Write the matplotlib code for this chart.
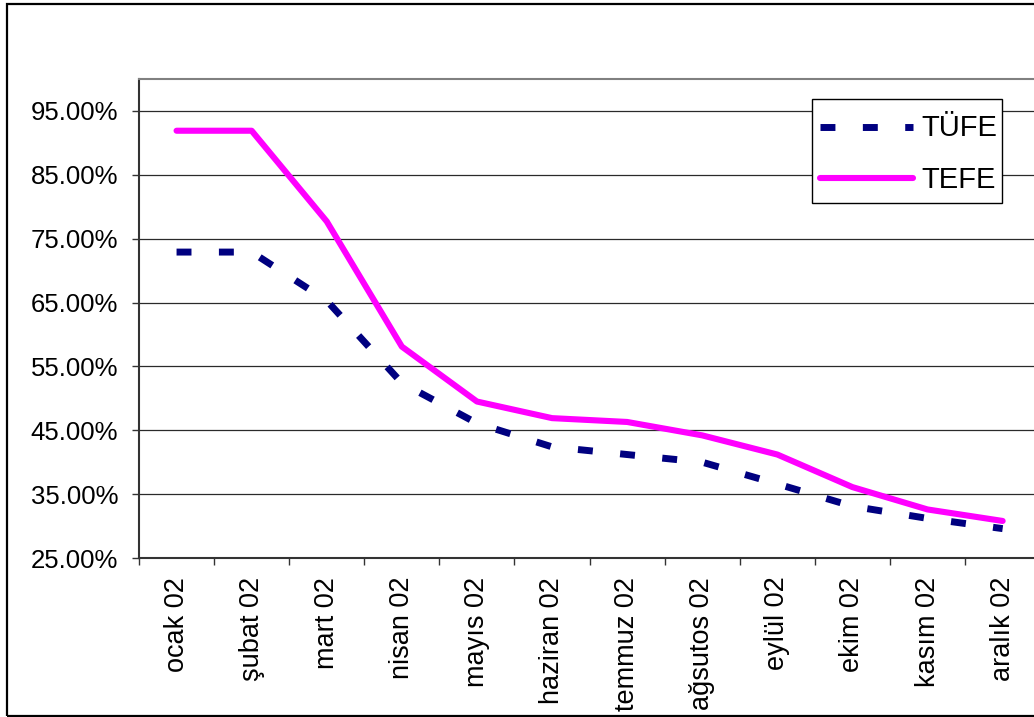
import matplotlib
matplotlib.use("Agg")
import matplotlib.pyplot as plt
from matplotlib.patches import Rectangle
from matplotlib.lines import Line2D
from matplotlib.ticker import FixedLocator, FuncFormatter

plt.rcParams['font.family'] = ['Liberation Sans', 'DejaVu Sans']

# Monthly annual inflation, 2002 (%)
months = ["ocak 02", "şubat 02", "mart 02", "nisan 02", "mayıs 02", "haziran 02",
          "temmuz 02", "ağsutos 02", "eylül 02", "ekim 02", "kasım 02", "aralık 02"]
tufe = [72.9, 72.9, 65.3, 52.4, 46.1, 42.4, 41.2, 40.0, 36.6, 33.1, 31.2, 29.6]
tefe = [91.9, 91.9, 77.7, 58.1, 49.5, 46.9, 46.3, 44.2, 41.2, 36.1, 32.6, 30.8]
series_names = ["TÜFE", "TEFE"]
y_ticks = [25, 35, 45, 55, 65, 75, 85, 95]

W, H = 1034, 717
fig = plt.figure(figsize=(W / 100, H / 100), dpi=100)


def fx(px):
    return px / W


def fy(py):
    return 1 - py / H


# outer chart frame
fig.patches.append(Rectangle((fx(7), fy(715.5)), 1.2, (711.5) / H, transform=fig.transFigure,
                             fill=False, edgecolor='black', linewidth=1.6, zorder=0))

left, right, top, bottom = 139, 139 + 12 * 75.1, 79, 558
ax = fig.add_axes([fx(left), fy(bottom), (right - left) / W, (bottom - top) / H])

styles = [
    dict(color='#000080', linewidth=5.0, linestyle=(0, (2.15, 3.95)),
         dash_capstyle='butt', dash_joinstyle='miter', zorder=3),
    dict(color='#FF00FF', linewidth=4.4, linestyle='-', solid_capstyle='round',
         solid_joinstyle='round', zorder=4),
]

x = list(range(len(months)))
for values, name, st in zip([tufe, tefe], series_names, styles):
    ax.plot(x, values, label=name, **st)

ax.set_xlim(-0.5, len(months) - 0.5)
ax.set_ylim(25, 100)

ax.yaxis.set_major_locator(FixedLocator(y_ticks))
ax.yaxis.set_major_formatter(FuncFormatter(lambda v, p: f"{v:.2f}%"))
ax.grid(axis='y', color='#2a2a2a', linewidth=0.9, zorder=1)
ax.set_axisbelow(True)

ax.set_xticks(x)
ax.set_xticklabels(months, rotation=90, va='top', ha='center')
ax.set_xticks([i - 0.5 for i in range(len(months) + 1)], minor=True)
ax.tick_params(axis='x', which='major', length=0, pad=13.5, labelsize=19.5)
ax.tick_params(axis='x', which='minor', length=5, width=1.0, color='#333333')
ax.tick_params(axis='y', which='major', length=5, width=1.0, color='#333333',
               pad=10, labelsize=18.5)

for side in ('left', 'bottom'):
    ax.spines[side].set_color('#333333')
    ax.spines[side].set_linewidth(1.5)
for side in ('top', 'right'):
    ax.spines[side].set_color('#808080')
    ax.spines[side].set_linewidth(1.5)

# legend box
fig.patches.append(Rectangle((fx(811.7), fy(203.3)), (1001.7 - 811.7) / W, (203.3 - 99.3) / H,
                             transform=fig.transFigure, facecolor='white',
                             edgecolor='black', linewidth=1.0, zorder=5))
for name, st, yc, yb in zip(series_names, styles, [126.7, 178.3], [136.0, 188.3]):
    st = dict(st)
    st['zorder'] = 6
    fig.add_artist(Line2D([fx(820), fx(913)], [fy(yc), fy(yc)],
                          transform=fig.transFigure, **st))
    fig.text(fx(921.5), fy(yb), name, fontsize=21, ha='left', va='baseline', zorder=6)

fig.savefig("out.png", dpi=100)
